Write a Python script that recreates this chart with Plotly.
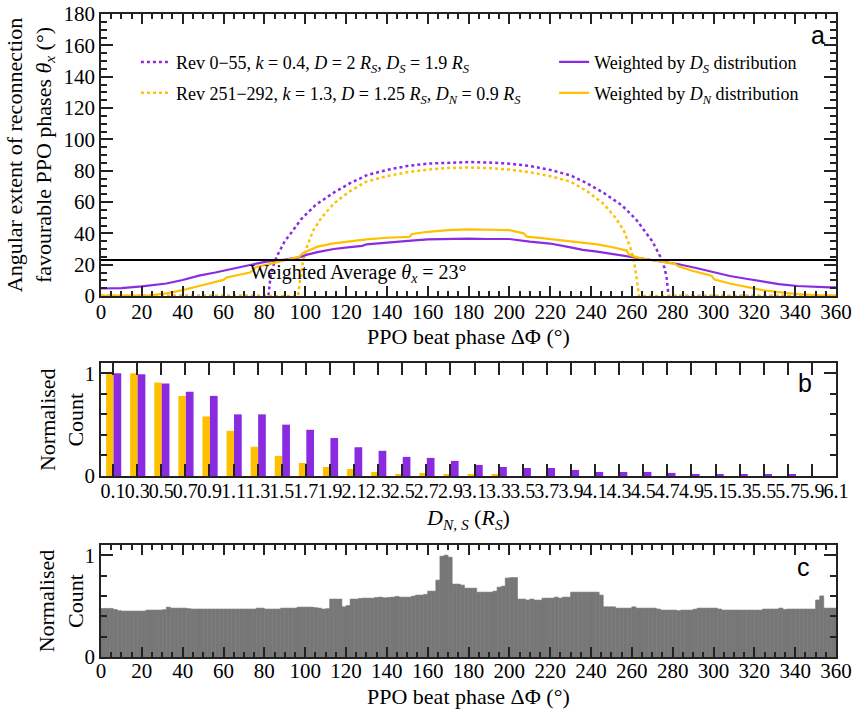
import numpy as np
import plotly.graph_objects as go

# ---------------- Panel a data ----------------
purple_dot_x = [0, 82, 83, 84, 86, 88, 90, 93, 98, 105, 114, 122, 130, 140, 150, 160, 170, 180,
                190, 200, 210, 220, 230, 238, 246, 255, 262, 267, 270, 272, 274, 276, 277, 278, 360]
purple_dot_y = [0, 0, 12, 18, 25, 30, 35, 40, 49, 58, 66, 72, 77, 80.5, 83, 84.5, 85.2, 85.5,
                85.2, 84.5, 83, 80.5, 77, 72, 66, 58, 49, 40, 35, 30, 25, 18, 12, 0, 0]

yellow_dot_x = [0, 96.5, 97.5, 99, 101, 104, 108, 114, 122, 130, 140, 150, 160, 170, 180,
                190, 200, 210, 220, 230, 238, 246, 252, 256, 259, 261, 262.5, 263.5, 360]
yellow_dot_y = [0, 0, 10, 23, 32, 42, 50, 59, 67, 73, 76.5, 79, 80.7, 81.7, 82,
                81.7, 80.7, 79, 76.5, 73, 67, 59, 50, 42, 32, 23, 10, 0, 0]

purple_sol_x = [0, 10, 20, 32, 40, 48, 56, 65, 73, 81, 90, 97, 101, 106, 114, 122, 128, 130, 138, 146,
                152, 160, 170, 180, 190, 200, 210, 220, 230, 236, 243, 252, 259, 266, 275, 283, 292,
                300, 308, 316, 324, 332, 341, 350, 357, 360]
purple_sol_y = [4.8, 5.0, 6.2, 8.0, 10.2, 13.0, 15.0, 17.7, 19.8, 21.9, 23.2, 24.7, 26.4, 28.0, 30.0,
                31.2, 32.0, 33.0, 34.0, 34.7, 35.4, 36.2, 36.5, 36.6, 36.4, 36.4, 34.7, 33.5, 31.0,
                29.5, 28.3, 26.5, 25.0, 23.6, 22.0, 20.3, 17.7, 15.2, 12.8, 11.0, 9.1, 7.6, 6.4, 5.7,
                5.5, 5.5]

yellow_sol_x = [0, 15, 24, 32, 40, 48, 56, 60, 61.5, 66, 73, 74, 76, 82, 89, 94, 97, 99, 102, 106,
                114, 122, 130, 140, 146, 151, 152.5, 160, 170, 180, 190, 200, 207, 208.5, 216, 224,
                234, 243, 250, 257.5, 258.5, 262.5, 268, 275, 281, 283, 290, 299, 300.5, 308, 316,
                324, 332, 341, 350, 360]
yellow_sol_y = [0.2, 0.2, 0.4, 1.7, 3.8, 6.4, 9.0, 10.3, 11.8, 13.0, 15.0, 16.0, 18.5, 20.2, 22.5,
                24.2, 25.0, 27.5, 29.3, 31.5, 33.6, 34.9, 36.2, 37.2, 37.5, 37.8, 39.6, 41.0, 42.0,
                42.5, 42.3, 42.0, 40.0, 37.9, 37.0, 35.7, 34.5, 33.0, 31.3, 29.0, 26.5, 24.7, 23.3,
                22.0, 20.5, 18.8, 16.0, 13.0, 10.5, 8.0, 5.8, 3.8, 2.5, 1.3, 0.6, 0.3]

weighted_avg = 23

# ---------------- Panel b data ----------------
d_labels = ["0.1", "0.3", "0.5", "0.7", "0.9", "1.1", "1.3", "1.5", "1.7", "1.9", "2.1", "2.3",
            "2.5", "2.7", "2.9", "3.1", "3.3", "3.5", "3.7", "3.9", "4.1", "4.3", "4.5", "4.7",
            "4.9", "5.1", "5.3", "5.5", "5.7", "5.9", "6.1"]
dn_counts = [1.0, 1.0, 0.91, 0.78, 0.58, 0.44, 0.285, 0.196, 0.127, 0.088, 0.068, 0.039, 0.02,
             0.029, 0.012, 0.01, 0.01, 0, 0, 0, 0, 0, 0, 0, 0, 0, 0, 0, 0, 0]
ds_counts = [1.0, 0.99, 0.90, 0.82, 0.78, 0.60, 0.60, 0.50, 0.45, 0.37, 0.28, 0.245, 0.186, 0.176,
             0.147, 0.108, 0.088, 0.078, 0.078, 0.059, 0.039, 0.039, 0.039, 0.03, 0.02, 0.01,
             0.01, 0.01, 0.01, 0]

# ---------------- Panel c data (2 degree bins) ----------------
phase_counts = [
    0.477, 0.477, 0.477, 0.467, 0.455, 0.451, 0.451, 0.451, 0.451, 0.451,
    0.451, 0.461, 0.461, 0.461, 0.461, 0.465, 0.490, 0.480, 0.480, 0.480,
    0.480, 0.475, 0.471, 0.471, 0.471, 0.471, 0.471, 0.471, 0.471, 0.471,
    0.471, 0.471, 0.471, 0.471, 0.471, 0.471, 0.471, 0.471, 0.480, 0.480,
    0.471, 0.471, 0.471, 0.471, 0.480, 0.480, 0.480, 0.480, 0.490, 0.490,
    0.490, 0.490, 0.485, 0.480, 0.471, 0.475, 0.569, 0.569, 0.569, 0.493,
    0.505, 0.569, 0.569, 0.575, 0.578, 0.578, 0.578, 0.585, 0.588, 0.581,
    0.585, 0.588, 0.595, 0.588, 0.588, 0.588, 0.598, 0.608, 0.608, 0.615,
    0.647, 0.647, 0.755, 0.990, 1.000, 0.980, 0.716, 0.716, 0.706, 0.676,
    0.676, 0.676, 0.637, 0.637, 0.637, 0.637, 0.647, 0.686, 0.696, 0.775,
    0.780, 0.780, 0.569, 0.569, 0.559, 0.569, 0.559, 0.559, 0.578, 0.578,
    0.578, 0.588, 0.578, 0.588, 0.588, 0.637, 0.637, 0.637, 0.637, 0.637,
    0.637, 0.637, 0.608, 0.493, 0.493, 0.493, 0.480, 0.480, 0.480, 0.480,
    0.493, 0.480, 0.480, 0.480, 0.480, 0.480, 0.471, 0.461, 0.461, 0.461,
    0.461, 0.455, 0.461, 0.461, 0.461, 0.470, 0.480, 0.480, 0.480, 0.480,
    0.480, 0.471, 0.461, 0.461, 0.461, 0.461, 0.461, 0.461, 0.461, 0.461,
    0.461, 0.461, 0.471, 0.471, 0.471, 0.471, 0.480, 0.468, 0.471, 0.471,
    0.471, 0.471, 0.471, 0.471, 0.471, 0.560, 0.600, 0.480, 0.480, 0.480,
]
bin_width = 2
phase_centres = np.arange(len(phase_counts)) * bin_width + bin_width / 2

PURPLE = "#8A2BE2"
YELLOW = "#FFC000"
GREY = "#777777"
AXC = "#222222"
SERIF = "Liberation Serif, Times New Roman, serif"

fig = go.Figure()

# Panel a
fig.add_trace(go.Scatter(x=purple_dot_x, y=purple_dot_y, mode="lines",
                         line=dict(color=PURPLE, width=2.5, dash="dot"),
                         name="Rev 0\u221255, <i>k</i> = 0.4, <i>D</i> = 2 <i>R<sub>S</sub></i>, <i>D<sub>S</sub></i> = 1.9 <i>R<sub>S</sub></i>",
                         legend="legend", xaxis="x", yaxis="y"))
fig.add_trace(go.Scatter(x=yellow_dot_x, y=yellow_dot_y, mode="lines",
                         line=dict(color=YELLOW, width=2.5, dash="dot"),
                         name="Rev 251\u2212292, <i>k</i> = 1.3, <i>D</i> = 1.25 <i>R<sub>S</sub></i>, <i>D<sub>N</sub></i> = 0.9 <i>R<sub>S</sub></i>",
                         legend="legend2", xaxis="x", yaxis="y"))
fig.add_trace(go.Scatter(x=purple_sol_x, y=purple_sol_y, mode="lines",
                         line=dict(color=PURPLE, width=2.2),
                         name="Weighted by <i>D<sub>S</sub></i> distribution",
                         legend="legend3", xaxis="x", yaxis="y"))
fig.add_trace(go.Scatter(x=yellow_sol_x, y=yellow_sol_y, mode="lines",
                         line=dict(color=YELLOW, width=2.2),
                         name="Weighted by <i>D<sub>N</sub></i> distribution",
                         legend="legend4", xaxis="x", yaxis="y"))
fig.add_trace(go.Scatter(x=[0, 360], y=[weighted_avg, weighted_avg], mode="lines",
                         line=dict(color="black", width=2), showlegend=False,
                         xaxis="x", yaxis="y"))

# Panel b
idx = list(range(len(dn_counts)))
fig.add_trace(go.Bar(x=idx, y=dn_counts, width=0.31, offset=-0.29, marker=dict(color=YELLOW, line=dict(width=0)),
                     showlegend=False, xaxis="x2", yaxis="y2"))
fig.add_trace(go.Bar(x=idx, y=ds_counts, width=0.32, offset=0.02, marker=dict(color=PURPLE, line=dict(width=0)),
                     showlegend=False, xaxis="x2", yaxis="y2"))

# Panel c
fig.add_trace(go.Bar(x=phase_centres, y=phase_counts, width=bin_width,
                     marker=dict(color=GREY, line=dict(width=0.6, color=GREY)),
                     showlegend=False, xaxis="x3", yaxis="y3"))

common = dict(showline=True, linecolor=AXC, linewidth=1.5, mirror="allticks", ticks="inside",
              tickcolor=AXC, showgrid=False, zeroline=False, automargin=False,
              tickfont=dict(family=SERIF, size=21, color="black"))

fig.update_layout(
    width=859, height=715,
    margin=dict(l=101, r=23, t=14, b=58, autoexpand=False),
    paper_bgcolor="white", plot_bgcolor="white",
    font=dict(family=SERIF, size=21, color="black"),
    barmode="overlay",
    xaxis=dict(domain=[0, 1], anchor="y", range=[0, 360], dtick=20, tick0=0, ticklen=10, tickwidth=1.5,
               ticklabelstandoff=-4,
               minor=dict(dtick=5, tick0=0, ticklen=5, ticks="inside", tickcolor=AXC),
               title=dict(text="PPO beat phase \u0394\u03a6 (\u00b0)", standoff=2, font=dict(size=22)),
               **common),
    yaxis=dict(domain=[0.5614, 1], anchor="x", range=[0, 180], dtick=20, tick0=0, ticklen=12, tickwidth=1.5,
               minor=dict(dtick=5, tick0=0, ticklen=6, ticks="inside", tickcolor=AXC),
               title=dict(text="Angular extent of reconnection<br>favourable PPO phases <i>\u03b8<sub>x</sub></i> (\u00b0)",
                          standoff=6, font=dict(size=22)),
               **common),
    xaxis2=dict(domain=[0, 1], anchor="y2", range=[-0.5, 30], tickmode="array",
                tickvals=list(range(len(d_labels))), ticktext=d_labels, tickangle=0,
                ticklen=12, tickwidth=1.5, ticklabelstandoff=-4,
                title=dict(text="<i>D<sub>N, S</sub></i> (<i>R<sub>S</sub></i>)", standoff=9, font=dict(size=22)),
                **{**common, "tickfont": dict(family=SERIF, size=20, color="black")}),
    yaxis2=dict(domain=[0.2815, 0.4572], anchor="x2", range=[0, 1.1], tickmode="array",
                tickvals=[0, 1], ticktext=["0", "1"], ticklen=12, tickwidth=1.5,
                minor=dict(dtick=0.2, tick0=0, ticklen=6, ticks="inside", tickcolor=AXC),
                **common),
    xaxis3=dict(domain=[0, 1], anchor="y3", range=[0, 360], dtick=20, tick0=0, ticklen=10, tickwidth=1.5,
                ticklabelstandoff=-6,
                minor=dict(dtick=5, tick0=0, ticklen=5, ticks="inside", tickcolor=AXC),
                **common),
    yaxis3=dict(domain=[0, 0.1742], anchor="x3", range=[0, 1.1], tickmode="array",
                tickvals=[0, 1], ticktext=["0", "1"], ticklen=12, tickwidth=1.5,
                minor=dict(dtick=0.2, tick0=0, ticklen=6, ticks="inside", tickcolor=AXC),
                **common),
)

leg = dict(bgcolor="rgba(0,0,0,0)", font=dict(family=SERIF, size=18, color="black"),
           xanchor="left", yanchor="middle", itemwidth=30, borderwidth=0)
fig.update_layout(
    legend=dict(x=0.0475, y=0.925, **leg),
    legend2=dict(x=0.0475, y=0.877, **leg),
    legend3=dict(x=0.6165, y=0.925, **leg),
    legend4=dict(x=0.6165, y=0.877, **leg),
)

fig.add_annotation(x=126, y=14.5, xref="x", yref="y", text="Weighted Average <i>\u03b8<sub>x</sub></i> = 23\u00b0",
                   showarrow=False, font=dict(family=SERIF, size=20, color="black"))

# y titles for panels b and c, x title for panel c
for yc in [0.369, 0.087]:
    fig.add_annotation(x=-0.054, y=yc, xref="paper", yref="paper", text="Normalised<br>Count",
                       textangle=-90, showarrow=False, xanchor="center", yanchor="middle",
                       font=dict(family=SERIF, size=22, color="black"))
fig.add_annotation(x=0.5, y=-0.0615, xref="paper", yref="paper", text="PPO beat phase \u0394\u03a6 (\u00b0)",
                   showarrow=False, xanchor="center", yanchor="middle",
                   font=dict(family=SERIF, size=22, color="black"))

for lab, px, py in [("a", 0.9755, 0.9675), ("b", 0.958, 0.426), ("c", 0.956, 0.14)]:
    fig.add_annotation(x=px, y=py, xref="paper", yref="paper", text=lab, showarrow=False,
                       xanchor="center", yanchor="middle",
                       font=dict(family="Liberation Sans, Arial, sans-serif", size=25, color="black"))

fig.write_html("out.html", config={"displayModeBar": False},
               post_script="document.body.style.margin='0px';document.body.style.overflow='hidden';")
